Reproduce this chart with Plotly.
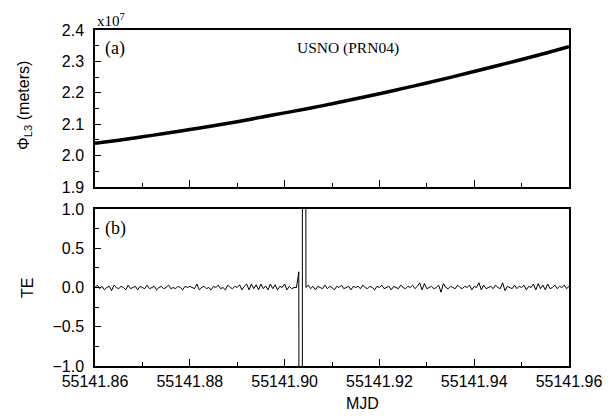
import numpy as np
import plotly.graph_objects as go

# ---- data ----
mjd_start = 55141.86
phi_step = 0.005
phi_l3 = [2.039, 2.049, 2.060, 2.071, 2.083, 2.095, 2.108, 2.122, 2.136, 2.150,
          2.165, 2.181, 2.197, 2.214, 2.231, 2.249, 2.268, 2.287, 2.306, 2.326,
          2.347]  # x10^7 m

te_step = 0.0005
te = [0.00, 0.03, -0.015, 0.015, -0.03, 0.00, 0.015, -0.04, 0.03, 0.00,
      -0.015, 0.015, 0.00, -0.03, 0.03, -0.015, 0.00, 0.015, -0.03, 0.015,
      0.00, -0.015, 0.03, -0.015, 0.00, 0.015, -0.03, 0.00, 0.015, -0.015,
      0.00, 0.03, -0.015, 0.00, -0.015, 0.015, 0.00, -0.03, 0.015, 0.00,
      0.015, 0.00, -0.015, 0.045, -0.03, 0.00, 0.015, -0.015, 0.00, -0.03,
      0.015, 0.00, 0.03, -0.015, 0.00, -0.03, 0.03, 0.00, -0.015, 0.015,
      0.00, 0.035, -0.03, 0.015, 0.045, -0.03, 0.045, -0.015, 0.035, -0.03,
      0.045, -0.015, 0.02, -0.03, 0.045, -0.015, 0.035, -0.03, 0.015, 0.00,
      0.045, -0.03, 0.015, -0.015, 0.00, 0.00,
      0.20,
      -40.0, 40.0,
      0.00, 0.03, -0.015, 0.015, -0.03, 0.015, 0.00, -0.015, 0.03, -0.015, 0.015,
      0.00, -0.03, 0.015, 0.00, 0.03, -0.015, 0.00, 0.015, -0.03, 0.015,
      0.00, 0.015, -0.015, 0.03, 0.00, -0.015, 0.015, 0.00, -0.03, 0.015,
      0.00, 0.03, -0.015, 0.00, 0.015, -0.03, 0.015, 0.00, -0.015, 0.03,
      0.00, -0.015, 0.015, 0.00, 0.03, -0.015, 0.015, 0.06, -0.03, 0.05,
      -0.015, 0.00, 0.015, -0.015, 0.00, 0.03, -0.06, 0.05, 0.00, -0.015,
      0.015, 0.00, -0.015, 0.03, 0.00, -0.015, 0.015, 0.00, 0.03, -0.03,
      0.015, 0.00, 0.06, -0.03, 0.03, -0.015, 0.00, 0.015, -0.015, 0.03,
      0.00, -0.015, 0.06, -0.04, 0.015, 0.00, -0.015, 0.03, -0.015, 0.015,
      0.00, 0.03, -0.03, 0.015, 0.00, 0.045, -0.03, 0.05, -0.015, 0.03,
      -0.03, 0.045, -0.015, 0.00, 0.03, -0.015, 0.015, 0.00, 0.03, -0.015, 0.015]

x_phi = mjd_start + phi_step * np.arange(len(phi_l3))
x_te = mjd_start + te_step * np.arange(len(te))

SANS = "Liberation Sans, Arial, sans-serif"
SERIF = "Liberation Serif, Times New Roman, serif"

fig = go.Figure()
fig.add_trace(go.Scatter(x=x_phi, y=phi_l3, mode="lines",
                         line=dict(color="black", width=3.5, shape="spline"),
                         xaxis="x", yaxis="y", showlegend=False))
fig.add_trace(go.Scatter(x=x_te, y=te, mode="lines",
                         line=dict(color="black", width=1),
                         xaxis="x2", yaxis="y2", showlegend=False))

ax_common = dict(showline=True, linecolor="black", linewidth=1.5, mirror=True,
                 ticks="inside", ticklen=7, tickwidth=1.2, tickcolor="black",
                 showgrid=False, zeroline=False,
                 tickfont=dict(family=SANS, size=16, color="black"))
xcommon = dict(ax_common, range=[55141.86, 55141.96], tick0=55141.86, dtick=0.02,
               tickformat=".2f",
               minor=dict(ticks="inside", ticklen=4, tickwidth=1.2, tickcolor="black",
                          dtick=0.01, tick0=55141.86, showgrid=False))

fig.update_layout(
    width=616, height=419,
    margin=dict(l=95, r=47, t=30, b=53),
    paper_bgcolor="white", plot_bgcolor="white",
    xaxis=dict(xcommon, domain=[0, 1], anchor="y", showticklabels=False),
    xaxis2=dict(xcommon, domain=[0, 1], anchor="y2"),
    yaxis=dict(ax_common, domain=[179 / 336, 1], anchor="x", range=[1.9, 2.4],
               tick0=1.9, dtick=0.1, tickformat=".1f", ticklen=6,
               ticklabelstandoff=6,
               minor=dict(ticks="inside", ticklen=4, tickwidth=1.2, tickcolor="black",
                          dtick=0.05, tick0=1.9)),
    yaxis2=dict(ax_common, domain=[0, 157 / 336], anchor="x2", range=[-1, 1],
                tick0=-1, dtick=0.5, tickformat=".1f", ticklen=6,
                ticklabelstandoff=6,
                minor=dict(ticks="inside", ticklen=4, tickwidth=1.2, tickcolor="black",
                           dtick=0.25, tick0=-1)),
)

ann = [
    dict(text="x10<sup>7</sup>", x=0, y=1.03, xanchor="left", yanchor="middle",
         font=dict(family=SERIF, size=15, color="black")),
    dict(text="(a)", x=0.0432, y=0.945, xanchor="center", yanchor="middle",
         font=dict(family=SERIF, size=18, color="black")),
    dict(text="USNO (PRN04)", x=0.5331, y=0.9464, xanchor="center", yanchor="middle",
         font=dict(family=SERIF, size=15.5, color="black")),
    dict(text="(b)", x=0.0443, y=0.409, xanchor="center", yanchor="middle",
         font=dict(family=SERIF, size=18, color="black")),
    dict(text="MJD", x=0.5633, y=-0.113, xanchor="center", yanchor="middle",
         font=dict(family=SANS, size=16, color="black")),
    dict(text="Φ<sub>L3</sub> (meters)", x=-0.1477, y=0.777, textangle=-90,
         xanchor="center", yanchor="middle",
         font=dict(family=SANS, size=16, color="black")),
    dict(text="TE", x=-0.1435, y=0.232, textangle=-90,
         xanchor="center", yanchor="middle",
         font=dict(family=SANS, size=16, color="black")),
]
for a in ann:
    a.update(xref="paper", yref="paper", showarrow=False)
fig.update_layout(annotations=ann)

fig.write_html("out.html")
